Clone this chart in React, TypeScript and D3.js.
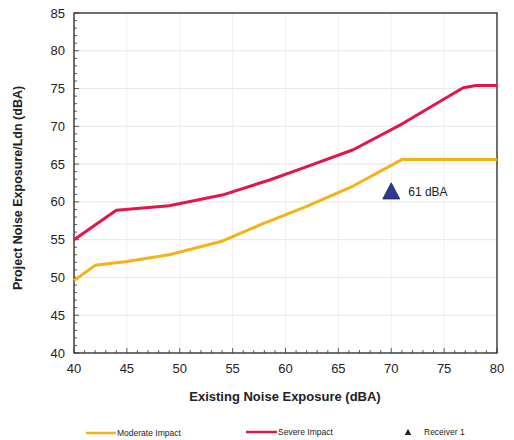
import React from "react";
import * as d3 from "d3";

const moderateX = [40, 42, 45, 49, 54, 58, 62, 66.4, 71, 80];
const moderateY = [49.6, 51.6, 52.1, 53.0, 54.8, 57.2, 59.4, 62.1, 65.6, 65.6];
const severeX = [40, 44, 49, 54, 58.5, 61.7, 66.4, 71, 76.8, 78, 80];
const severeY = [55.0, 58.9, 59.5, 60.9, 62.9, 64.5, 66.9, 70.3, 75.1, 75.4, 75.4];
const receiverX = [70];
const receiverY = [61.4];
const receiverLabels = ["61 dBA"];
const xTicks = [40, 45, 50, 55, 60, 65, 70, 75, 80];
const yTicks = [40, 45, 50, 55, 60, 65, 70, 75, 80, 85];
const legendLabels = ["Moderate Impact", "Severe Impact", "Receiver 1"];

const ORANGE = "#F5B217";
const RED = "#E2164A";
const NAVY = "#2B3A8C";

export default function App() {
  const W = 514, H = 440;
  const left = 74, right = 497, top = 13, bottom = 353;
  const x = d3.scaleLinear().domain([40, 80]).range([left, right]);
  const y = d3.scaleLinear().domain([40, 85]).range([bottom, top]);
  const line = d3.line<[number, number]>().x(d => x(d[0])).y(d => y(d[1]));
  const modPts = moderateX.map((v, i) => [v, moderateY[i]] as [number, number]);
  const sevPts = severeX.map((v, i) => [v, severeY[i]] as [number, number]);
  const minorX = d3.range(40, 80.01, 1);
  const minorY = d3.range(40, 85.01, 1);
  const font = "Arial, 'Liberation Sans', sans-serif";
  const tri = (cx: number, cy: number, s: number) =>
    `M${cx},${cy - s} L${cx + s * 1.0},${cy + s * 0.9} L${cx - s * 1.0},${cy + s * 0.9} Z`;

  return (
    <svg width={W} height={H} style={{ position: "absolute", left: 0, top: 0, background: "#fff" }} fontFamily={font}>
      <rect x={0} y={0} width={W} height={H} fill="#fff" />
      {yTicks.slice(1, -1).map(t => (
        <line key={"gy" + t} x1={left} x2={right} y1={y(t)} y2={y(t)} stroke="#e6e6e6" strokeWidth={1} />
      ))}
      {xTicks.slice(1, -1).map(t => (
        <line key={"gx" + t} x1={x(t)} x2={x(t)} y1={top} y2={bottom} stroke="#efefef" strokeWidth={1} />
      ))}
      <rect x={left} y={top} width={right - left} height={bottom - top} fill="none" stroke="#222" strokeWidth={1.3} />
      {minorX.map(t => (
        <line key={"mx" + t} x1={x(t)} x2={x(t)} y1={bottom} y2={bottom - (t % 5 === 0 ? 5 : 3)} stroke="#333" strokeWidth={0.8} />
      ))}
      {minorY.map(t => (
        <line key={"my" + t} x1={left} x2={left + (t % 5 === 0 ? 5 : 3)} y1={y(t)} y2={y(t)} stroke="#333" strokeWidth={0.8} />
      ))}
      {yTicks.map(t => (
        <text key={"yl" + t} x={left - 9} y={y(t)} dy="0.35em" textAnchor="end" fontSize={13} fill="#222">{t}</text>
      ))}
      {xTicks.map(t => (
        <text key={"xl" + t} x={x(t)} y={bottom + 20} textAnchor="middle" fontSize={13} fill="#222">{t}</text>
      ))}
      <text x={285} y={401} textAnchor="middle" fontSize={13} fontWeight="bold" fill="#222">Existing Noise Exposure (dBA)</text>
      <text transform={`translate(22,${(top + bottom) / 2 + 5}) rotate(-90)`} textAnchor="middle" fontSize={12.5} fontWeight="bold" fill="#222">Project Noise Exposure/Ldn (dBA)</text>
      <path d={line(modPts) || ""} fill="none" stroke={ORANGE} strokeWidth={3} strokeLinejoin="round" />
      <path d={line(sevPts) || ""} fill="none" stroke={RED} strokeWidth={3} strokeLinejoin="round" />
      {receiverX.map((v, i) => (
        <g key={"r" + i}>
          <path d={tri(x(v), y(receiverY[i]), 8.5)} fill={NAVY} stroke="#1a2460" strokeWidth={0.8} />
          <text x={x(v) + 17} y={y(receiverY[i])} dy="0.35em" fontSize={12} fill="#222">{receiverLabels[i]}</text>
        </g>
      ))}
      <line x1={86} x2={116} y1={433} y2={433} stroke={ORANGE} strokeWidth={2.5} />
      <text x={117} y={436} fontSize={8.5} fill="#222">{legendLabels[0]}</text>
      <line x1={246} x2={277} y1={432} y2={432} stroke={RED} strokeWidth={2.5} />
      <text x={278} y={435} fontSize={8.5} fill="#222">{legendLabels[1]}</text>
      <path d={tri(408, 432, 3.2)} fill="#222" />
      <text x={424} y={435} fontSize={8.5} fill="#222">{legendLabels[2]}</text>
    </svg>
  );
}
